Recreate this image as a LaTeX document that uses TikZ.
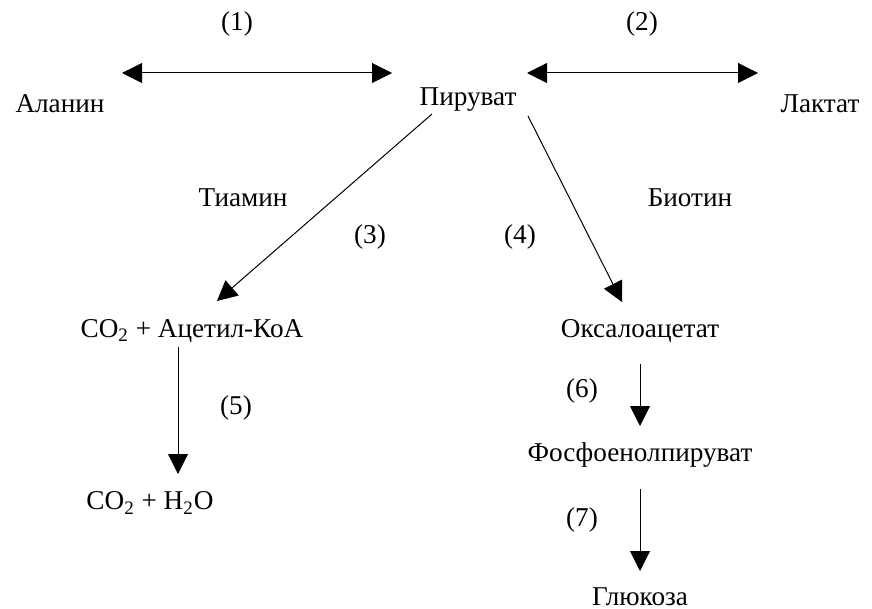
\documentclass[tikz,border=0pt]{standalone}
\usepackage{fontspec}
\setmainfont{Liberation Serif}
\usetikzlibrary{arrows.meta}
\begin{document}
\begin{tikzpicture}[x=0.5pt,y=-0.5pt,
  lbl/.style={inner sep=0pt,font=\fontsize{13.6}{16}\selectfont},
  rxn/.style={line width=0.5pt,-{Triangle[length=10pt,width=10pt]}},
  rev/.style={line width=0.5pt,{Triangle[length=10pt,width=10pt]}-{Triangle[length=10pt,width=10pt]}}]
\useasboundingbox (0,0) rectangle (872,609);

% metabolites
\node[lbl] (ala) at (60,104) {Аланин};
\node[lbl] (pyr) at (468,100) {Пируват};
\node[lbl] (lac) at (820,104) {Лактат};
\node[lbl] (acoa) at (192,331) {CO\textsubscript{2} + Ацетил-КоА};
\node[lbl] (oaa) at (640,331) {Оксалоацетат};
\node[lbl] (co2) at (150,503) {CO\textsubscript{2} + H\textsubscript{2}O};
\node[lbl] (pep) at (640,455) {Фосфоенолпируват};
\node[lbl] (glc) at (640,597) {Глюкоза};

% reaction numbers and cofactors
\node[lbl] (n1) at (237,24) {(1)};
\node[lbl] (n2) at (642,24) {(2)};
\node[lbl] (thi) at (243,198) {Тиамин};
\node[lbl] (bio) at (690,198) {Биотин};
\node[lbl] (n3) at (370,237) {(3)};
\node[lbl] (n4) at (520,237) {(4)};
\node[lbl] (n5) at (236,408) {(5)};
\node[lbl] (n6) at (582,391) {(6)};
\node[lbl] (n7) at (582,520) {(7)};

% arrow end points
\coordinate (r1a) at (122,73);
\coordinate (r1b) at (392,73);
\coordinate (r2a) at (527,73);
\coordinate (r2b) at (758,73);
\coordinate (r3a) at (432,114);
\coordinate (r3b) at (217,301);
\coordinate (r4a) at (528,116);
\coordinate (r4b) at (622,302);
\coordinate (r5a) at (178,347);
\coordinate (r5b) at (178,474);
\coordinate (r6a) at (640,364);
\coordinate (r6b) at (640,426);
\coordinate (r7a) at (640,489);
\coordinate (r7b) at (640,571);

% reactions
\draw[rev] (r1a) -- (r1b);
\draw[rev] (r2a) -- (r2b);
\draw[rxn] (r3a) -- (r3b);
\draw[rxn] (r4a) -- (r4b);
\draw[rxn] (r5a) -- (r5b);
\draw[rxn] (r6a) -- (r6b);
\draw[rxn] (r7a) -- (r7b);
\end{tikzpicture}
\end{document}
